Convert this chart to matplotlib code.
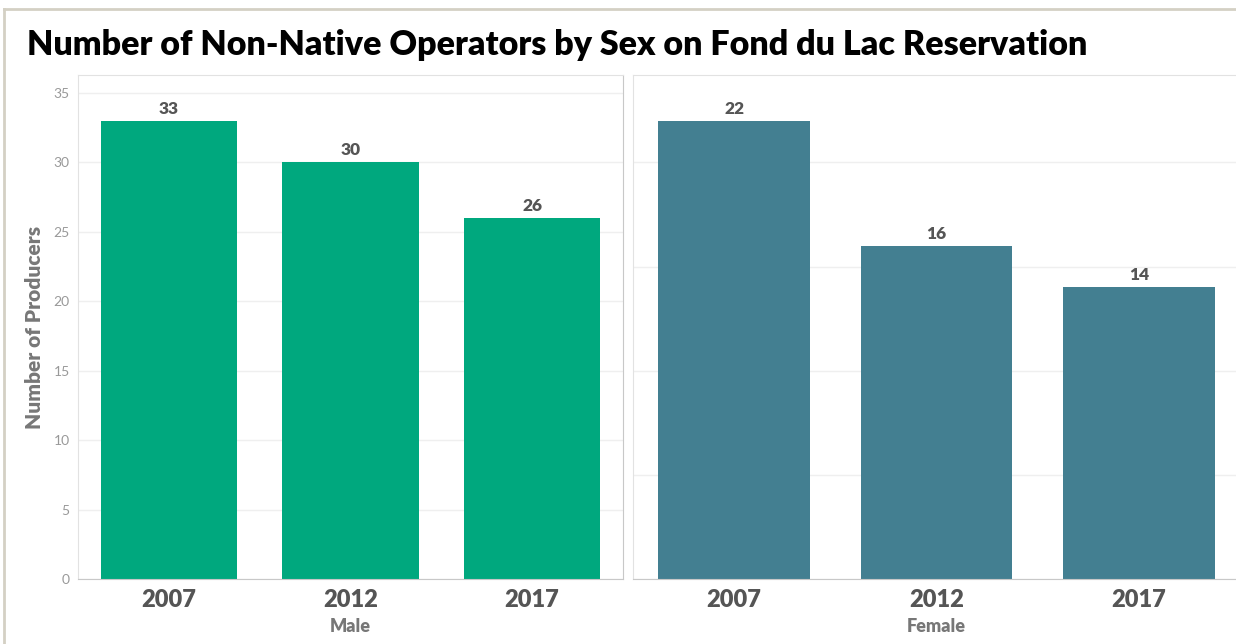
import matplotlib.pyplot as plt
from matplotlib.lines import Line2D

years = ["2007", "2012", "2017"]
male_values = [33, 30, 26]
female_values = [22, 16, 14]
panel_names = ["Male", "Female"]

plt.rcParams['font.family'] = ['Lato', 'DejaVu Sans']

fig = plt.figure(figsize=(12.36, 6.44), dpi=100)

# panel positions in figure fraction (Tableau gives panes different widths)
ax_m = fig.add_axes([0.0631, 0.1009, 0.4409, 0.7826])
ax_f = fig.add_axes([0.5121, 0.1009, 0.4911, 0.7826])

panels = [
    (ax_m, male_values, "#00A87E", panel_names[0], True),
    (ax_f, female_values, "#437F91", panel_names[1], False),
]

for ax, values, color, name, show_y in panels:
    x = range(len(years))
    bars = ax.bar(x, values, width=0.75, color=color, zorder=2)
    ax.set_xlim(-0.5, 2.5)
    ax.set_ylim(0, max(values) * 1.1)
    ax.set_yticks(range(0, int(max(values) * 1.1) + 1, 5))
    ax.yaxis.grid(True, color="#efefef", linewidth=1, zorder=0)
    ax.set_axisbelow(True)

    for b, v in zip(bars, values):
        ax.annotate(str(v), (b.get_x() + b.get_width() / 2, v),
                    xytext=(0, 3), textcoords="offset points",
                    ha="center", va="bottom", fontsize=12.5,
                    fontweight="heavy", color="#555555")

    ax.set_xticks(list(x))
    ax.set_xticklabels(years, fontsize=17, fontweight="heavy", color="#555555")
    ax.tick_params(axis="x", length=0, pad=7)
    ax.tick_params(axis="y", length=0, pad=6, labelsize=10, labelcolor="#999999")
    if not show_y:
        ax.tick_params(axis="y", labelleft=False)
    ax.set_xlabel(name, fontsize=13, fontweight="heavy", color="#777777", labelpad=5)

    for side in ["left", "top", "right"]:
        ax.spines[side].set_color("#e2e2e2")
    ax.spines["bottom"].set_color("#c8c8c8")

ax_m.spines["right"].set_color("#c8c8c8")
ax_m.set_ylabel("Number of Producers", fontsize=15, fontweight="heavy",
                color="#777777", labelpad=7)

fig.text(0.022, 0.915, "Number of Non-Native Operators by Sex on Fond du Lac Reservation",
         fontsize=24.5, fontweight="heavy", color="black", ha="left", va="baseline")

# outer dashboard frame
fig.add_artist(Line2D([0.0035, 1.0], [0.986, 0.986], color="#d4d0c4", linewidth=2))
fig.add_artist(Line2D([0.0035, 0.0035], [0.0, 0.986], color="#d4d0c4", linewidth=2))

plt.savefig("out.png", dpi=100)
